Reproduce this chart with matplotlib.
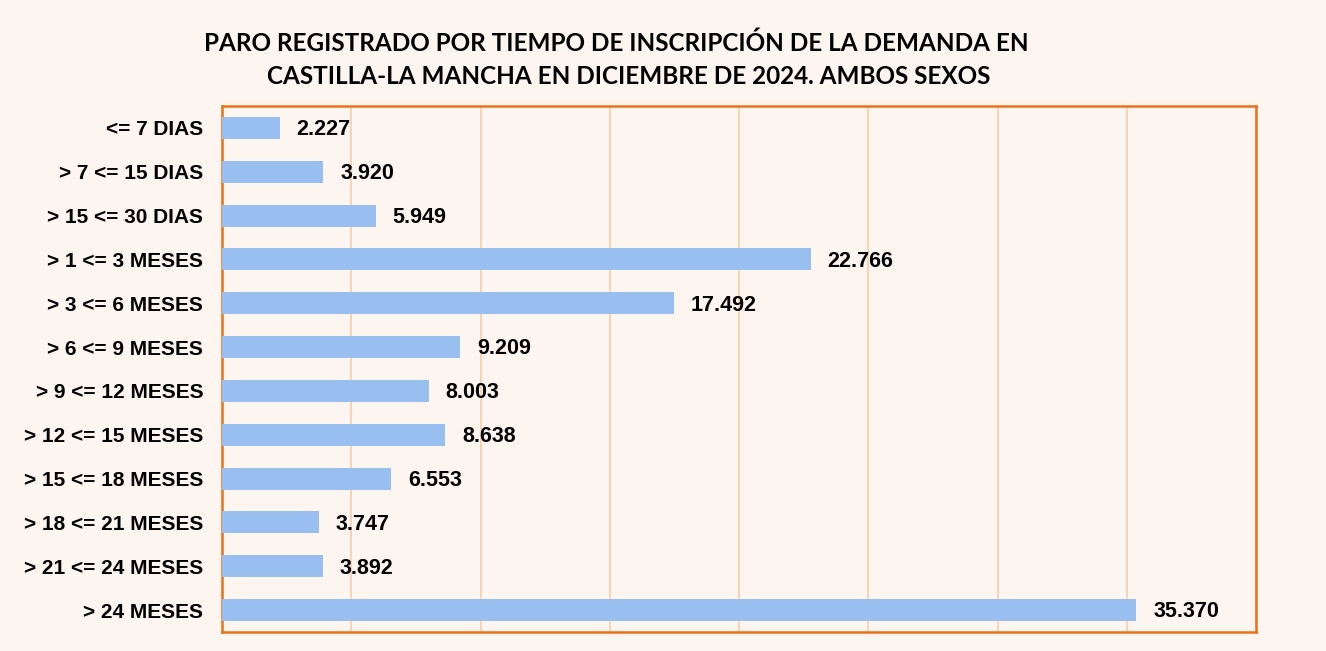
import matplotlib.pyplot as plt

# datos
categorias = [
    "<= 7 DIAS", "> 7 <= 15 DIAS", "> 15 <= 30 DIAS", "> 1 <= 3 MESES",
    "> 3 <= 6 MESES", "> 6 <= 9 MESES", "> 9 <= 12 MESES", "> 12 <= 15 MESES",
    "> 15 <= 18 MESES", "> 18 <= 21 MESES", "> 21 <= 24 MESES", "> 24 MESES",
]
parados = [2227, 3920, 5949, 22766, 17492, 9209, 8003, 8638, 6553, 3747, 3892, 35370]
etiquetas = ["2.227", "3.920", "5.949", "22.766", "17.492", "9.209",
             "8.003", "8.638", "6.553", "3.747", "3.892", "35.370"]
titulo1 = "PARO REGISTRADO POR TIEMPO DE INSCRIPCIÓN DE LA DEMANDA EN"
titulo2 = "CASTILLA-LA MANCHA EN DICIEMBRE DE 2024. AMBOS SEXOS"

bg = "#FDF5F0"
naranja = "#E8731A"

fig = plt.figure(figsize=(13.26, 6.51), dpi=100, facecolor=bg)
ax = fig.add_axes([222 / 1326, 1 - 632 / 651, 1034 / 1326, 526 / 651])
ax.set_facecolor(bg)

pos = list(range(len(categorias)))
ax.barh(pos, parados, height=0.5, color="#99BFF0", zorder=3)
for y, v, t in zip(pos, parados, etiquetas):
    ax.text(v + 650, y + 0.04, t, va="center", ha="left", fontsize=15.5,
            fontweight="bold", family="Liberation Sans", zorder=4)

ax.set_xlim(0, 40000)
ax.set_ylim(len(categorias) - 0.5, -0.5)
ax.set_xticks(range(0, 40001, 5000))
ax.xaxis.grid(True, color="#F8CDA8", linewidth=1.2, zorder=0)
ax.tick_params(axis="x", length=0, labelbottom=False)
ax.tick_params(axis="y", length=0, pad=13.5)
ax.set_yticks(pos)
ax.set_yticklabels(categorias, fontsize=15, fontweight="bold", family="Liberation Sans")
for s in ax.spines.values():
    s.set_color(naranja)
    s.set_linewidth(1.8)

fig.text(616 / 1326, 1 - 43 / 651, titulo1, ha="center", va="center",
         fontsize=17.5, fontweight="bold", family="Lato")
fig.text(629 / 1326, 1 - 77 / 651, titulo2, ha="center", va="center",
         fontsize=17.5, fontweight="bold", family="Lato")

fig.savefig("out.png", dpi=100, facecolor=bg)
